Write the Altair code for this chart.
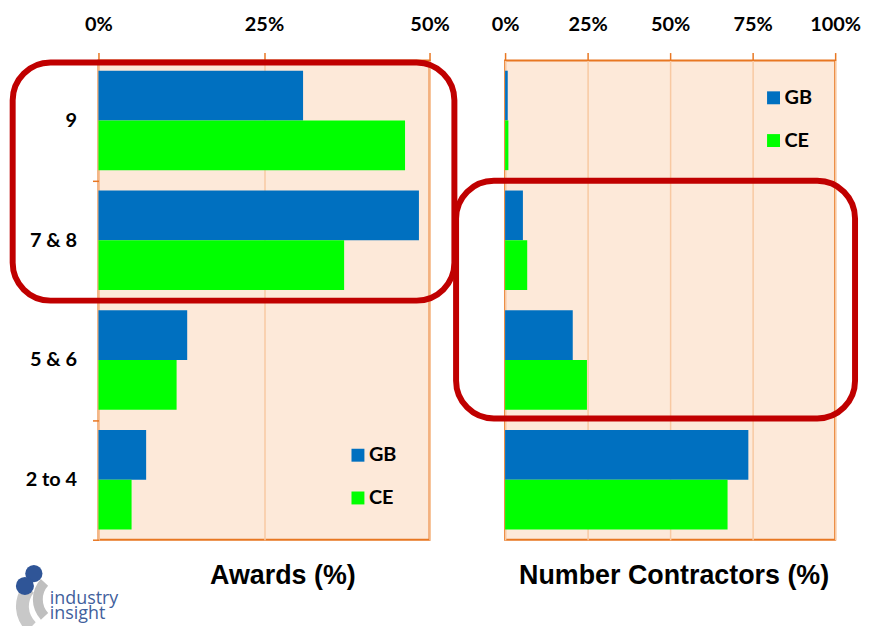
import altair as alt
import pandas as pd

# ---------------- data ----------------
categories = ["9", "7 & 8", "5 & 6", "2 to 4"]
series = ["GB", "CE"]
awards_gb = [30.9, 48.4, 13.4, 7.2]
awards_ce = [46.3, 37.1, 11.8, 5.0]
contractors_gb = [0.8, 5.4, 20.5, 73.7]
contractors_ce = [1.0, 6.7, 24.8, 67.4]
awards_ticks = [0, 25, 50]
contractors_ticks = [0, 25, 50, 75, 100]
series_colors = ["#0070C0", "#00FF00"]
logo_lines = ["industry", "insight"]

ORANGE = "#E87722"
GRID = "#F8C9A2"
BG = "#FDE9D9"
RED = "#C00000"
H = 482


def long_df(gb, ce):
    rows = []
    for c, g, e in zip(categories, gb, ce):
        rows.append({"category": c, "series": "GB", "value": g})
        rows.append({"category": c, "series": "CE", "value": e})
    return pd.DataFrame(rows)


one = pd.DataFrame({"a": [0]})


def panel(df, ticks, dom, width, show_y, leg_xy, rect, title, title_x, extra=None):
    y_axis = (
        alt.Axis(
            title=None, domain=False, tickBand="extent", tickSize=6, tickColor=ORANGE,
            tickWidth=1.5, labelFont="Lato", labelFontSize=20, labelFontWeight="bold",
            labelColor="black", labelPadding=16, grid=False,
        )
        if show_y
        else None
    )
    bars = alt.Chart(df).mark_bar().encode(
        y=alt.Y("category:N", sort=categories,
                scale=alt.Scale(paddingInner=0, paddingOuter=0), axis=y_axis),
        yOffset=alt.YOffset("series:N", sort=series,
                            scale=alt.Scale(paddingInner=0, paddingOuter=0.205)),
        x=alt.X("value:Q", scale=alt.Scale(domain=dom, nice=False),
                axis=alt.Axis(orient="top", values=ticks, labelExpr="datum.value + '%'",
                              title=None, domain=False, tickColor=ORANGE, tickSize=8,
                              tickWidth=1.5, grid=True, gridColor=GRID, gridWidth=1.5,
                              labelFont="Lato", labelFontSize=20, labelFontWeight="bold",
                              labelColor="black", labelPadding=18, labelFlush=False,
                              labelOverlap=False)),
        color=alt.Color("series:N", sort=series,
                        scale=alt.Scale(domain=series, range=series_colors),
                        legend=alt.Legend(orient="none", legendX=leg_xy[0], legendY=leg_xy[1],
                                          title=None, symbolType="square", symbolSize=169,
                                          symbolStrokeWidth=0, labelFont="Lato",
                                          labelFontSize=20, labelFontWeight="bold",
                                          labelColor="black", rowPadding=23, labelOffset=1,
                                          padding=0)),
    )
    box = alt.Chart(one).mark_rect(fill="transparent", stroke=RED, strokeWidth=6,
                                   cornerRadius=38).encode(
        x=alt.value(rect[0]), x2=alt.value(rect[1]),
        y=alt.value(rect[2]), y2=alt.value(rect[3]))
    ttl = alt.Chart(one).mark_text(text=title, font="Liberation Sans", fontSize=27,
                                   fontWeight="bold", color="black",
                                   baseline="middle").encode(
        x=alt.value(title_x), y=alt.value(H + 37))
    layers = [bars, box, ttl]
    if extra:
        layers += extra
    return alt.layer(*layers).properties(width=width, height=H)


# logo pieces (decoration), positioned relative to left panel origin
logo = [
    alt.Chart(one).mark_rule(opacity=0).encode(
        x=alt.value(-90), y=alt.value(-50), y2=alt.value(-49)),
    alt.Chart(one).mark_arc(innerRadius=20, outerRadius=30, theta=3.96, theta2=5.46,
                            color="#BFBFBF").encode(x=alt.value(-36), y=alt.value(542)),
    alt.Chart(one).mark_arc(innerRadius=22, outerRadius=35, theta=3.9, theta2=5.4,
                            color="#C8C8C8").encode(x=alt.value(-48), y=alt.value(549)),
    alt.Chart(one).mark_point(shape="circle", filled=True, opacity=1, size=300,
                              color="#2F5597").encode(x=alt.value(-65), y=alt.value(516)),
    alt.Chart(one).mark_point(shape="circle", filled=True, opacity=1, size=330,
                              color="#2F5597").encode(x=alt.value(-74), y=alt.value(528.5)),
    alt.Chart(one).mark_text(text=logo_lines, font="Open Sans", fontSize=18, lineHeight=15,
                             color="#41609C", align="left", baseline="alphabetic").encode(
        x=alt.value(-49), y=alt.value(547)),
]

left = panel(long_df(awards_gb, awards_ce), awards_ticks, [0, 50], 333, True,
             (251, 387), (-86.3, 358, 2, 241.5), "Awards (%)", 185.5, logo)
right = panel(long_df(contractors_gb, contractors_ce), contractors_ticks, [0, 100], 332,
              False, (260, 27.5), (-49.3, 352, 121, 360), "Number Contractors (%)", 170)

chart = (
    alt.hconcat(left, right, spacing=76, bounds="flush")
    .resolve_scale(x="independent", color="independent")
    .resolve_legend(color="independent")
    .properties(padding=0, background="white")
    .configure_view(stroke=ORANGE, strokeWidth=2, fill=BG)
)

chart.save("out.html", embed_options={"renderer": "svg", "actions": False})
